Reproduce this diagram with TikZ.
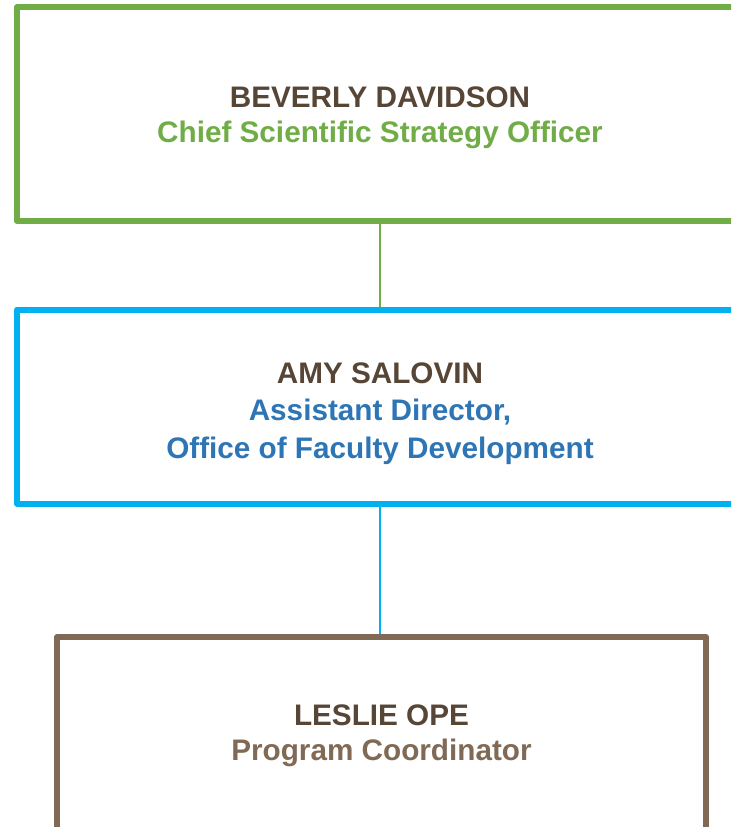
\documentclass[tikz,border=0pt]{standalone}
\usepackage{fontspec}
\setmainfont{Liberation Sans}
\usetikzlibrary{positioning}
\definecolor{chiefgreen}{HTML}{70AD47}
\definecolor{skyblue}{HTML}{00B0F0}
\definecolor{titleblue}{HTML}{2E75B6}
\definecolor{boxbrown}{HTML}{806A55}
\definecolor{namebrown}{HTML}{574536}

\begin{document}
\begin{tikzpicture}[x=1pt, y=-1pt,
    box/.style={draw, line width=6pt, line join=round, align=center, inner sep=0pt,
        font=\fontsize{29.7}{35}\selectfont\bfseries},
    link/.style={line width=2.5pt}]
\clip (0,0) rectangle (731,827);
% boxes
\node[box, chiefgreen, minimum width=726pt, minimum height=214pt] (chief) at (380,114)
    {\rule{0pt}{28pt}\textcolor{namebrown}{BEVERLY DAVIDSON}\\Chief Scientific Strategy Officer};
\node[box, draw=skyblue, text=titleblue, minimum width=726pt, minimum height=194pt,
    font=\fontsize{29.7}{37.5}\selectfont\bfseries] (amy) at (380,406.5)
    {\rule{0pt}{35pt}\textcolor{namebrown}{AMY SALOVIN}\\Assistant Director,\\Office of Faculty Development};
\node[box, boxbrown, minimum width=649pt, minimum height=198pt] (leslie) at (381.5,736)
    {\textcolor{namebrown}{LESLIE OPE}\\Program Coordinator};
% links
\draw[link, chiefgreen] (chief.south) -- (amy.north);
\draw[link, skyblue] (amy.south) -- (amy.south |- leslie.north);
\end{tikzpicture}
\end{document}
